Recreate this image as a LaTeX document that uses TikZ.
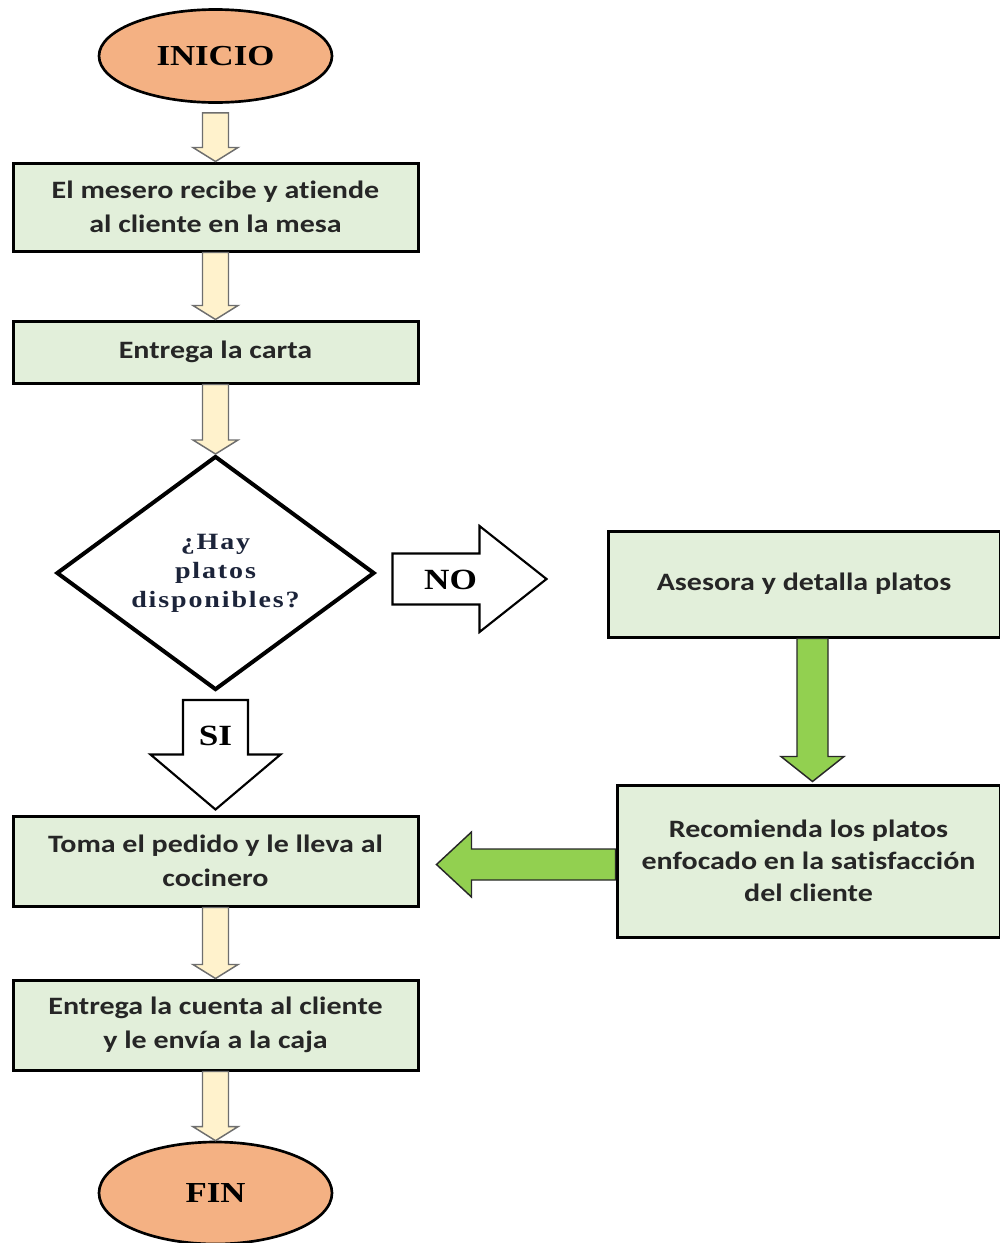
\documentclass[tikz,border=0pt]{standalone}
\usepackage{fontspec}
\usetikzlibrary{shapes.geometric,calc}
\newfontfamily\cajafont[FakeStretch=1.2,Ligatures=NoCommon]{Carlito}
\newfontfamily\titfont[FakeStretch=1.2]{Liberation Serif}
\newfontfamily\decfont[FakeStretch=1.2,LetterSpace=8]{Liberation Serif}
\definecolor{naranja}{RGB}{244,177,131}
\definecolor{verdeclaro}{RGB}{226,239,218}
\definecolor{crema}{RGB}{255,242,204}
\definecolor{verde}{RGB}{146,208,80}
\definecolor{grisborde}{RGB}{110,110,110}
\definecolor{grisoscuro}{RGB}{40,40,40}
\definecolor{textogris}{RGB}{38,38,38}
\definecolor{azulnoche}{RGB}{28,36,58}

\tikzset{every picture/.style={line width=0.75pt},
  caja/.style={draw, line width=2.25pt, fill=verdeclaro, minimum width=303.75pt, inner sep=0pt, align=center, text=textogris, font=\cajafont\bfseries\fontsize{18.75}{25.5}\selectfont},
  terminal/.style={ellipse, draw, line width=2pt, fill=naranja, minimum width=174.75pt, inner sep=0pt, font=\titfont\bfseries\fontsize{21.75}{26}\selectfont},
  decision/.style={diamond, draw, line width=3pt, fill=white, minimum width=238.5pt, minimum height=175.5pt, inner sep=0pt, aspect=1.36, align=center, text=azulnoche, font=\decfont\bfseries\fontsize{17.5}{21.75}\selectfont},
  etiqueta/.style={inner sep=0pt, font=\titfont\bfseries\fontsize{22}{26}\selectfont},
  flechacrema/.style={draw=grisborde, fill=crema, line width=1.1pt},
  flechaverde/.style={draw=grisoscuro, fill=verde, line width=1.1pt},
  flechablanca/.style={draw=black, fill=white, line width=1.6pt}}

% block arrow going down: style, from, tip, half shaft, half head, head offset
\newcommand{\bajada}[6]{\draw[#1] ($(#2)+(-#4,0)$) -- ($(#2)+(#4,0)$) -- ($(#3)+(#4,#6)$) -- ($(#3)+(#5,#6)$) -- (#3) -- ($(#3)+(-#5,#6)$) -- ($(#3)+(-#4,#6)$) -- cycle;}
% block arrow going sideways
\newcommand{\lateral}[6]{\draw[#1] ($(#2)+(0,-#4)$) -- ($(#3)+(#6,-#4)$) -- ($(#3)+(#6,-#5)$) -- (#3) -- ($(#3)+(#6,#5)$) -- ($(#3)+(#6,#4)$) -- ($(#2)+(0,#4)$) -- cycle;}

\begin{document}
\begin{tikzpicture}[x=0.75pt,y=0.75pt,yscale=-1,xscale=1]
\useasboundingbox (0,0) rectangle (1000,1243);

%Shape: Ellipse [inicio]
\node [terminal, minimum height=69.75pt] (ini) at (215.5,56) {INICIO};
%Shape: Rectangle [mesero]
\node [caja, minimum height=66pt] (mesero) at (215.5,207) {El mesero recibe y atiende\\al cliente en la mesa};
%Shape: Rectangle [carta]
\node [caja, minimum height=46.5pt] (carta) at (215.5,352) {Entrega la carta};
%Shape: Diamond [platos]
\node [decision] (platos) at (215.5,573) {¿Hay\\platos\\disponibles?};
%Shape: Rectangle [asesora]
\node [caja, minimum width=294pt, minimum height=79.5pt] (asesora) at (804,584) {Asesora y detalla platos};
%Shape: Rectangle [recomienda]
\node [caja, minimum width=287.25pt, minimum height=114pt, font=\cajafont\bfseries\fontsize{18.75}{24}\selectfont] (recomienda) at (808.5,861) {Recomienda los platos\\enfocado en la satisfacción\\del cliente};
%Shape: Rectangle [pedido]
\node [caja, minimum height=67.5pt] (pedido) at (215.5,861) {Toma el pedido y le lleva al\\cocinero};
%Shape: Rectangle [cuenta]
\node [caja, minimum height=67.5pt] (cuenta) at (215.5,1025) {Entrega la cuenta al cliente\\y le envía a la caja};
%Shape: Ellipse [fin]
\node [terminal, minimum height=76.5pt] (fin) at (215.5,1193) {FIN};

% free ends of the arrows
\coordinate (s1) at ($(ini.south)+(0,9)$);
\coordinate (no1) at ($(platos.east)+(16,6)$);
\coordinate (no2) at ($(asesora.west)+(-60,-5)$);
\coordinate (si1) at ($(platos.south)+(0,8)$);
\coordinate (si2) at ($(pedido.north)+(0,-5)$);
\coordinate (v1) at ($(asesora.south)+(8.5,0)$);
\coordinate (v2) at ($(recomienda.north)+(4,-2)$);
\coordinate (h1) at ($(recomienda.west)+(0,3.5)$);
\coordinate (h2) at ($(pedido.east)+(17,3.5)$);

%Block Arrows
\bajada{flechacrema}{s1}{mesero.north}{13}{22.5}{-14}
\bajada{flechacrema}{mesero.south}{carta.north}{13}{22.5}{-14}
\bajada{flechacrema}{carta.south}{platos.north}{13}{22.5}{-14}
\bajada{flechacrema}{pedido.south}{cuenta.north}{13}{22.5}{-14}
\bajada{flechacrema}{cuenta.south}{fin.north}{13}{22.5}{-14}
\lateral{flechablanca}{no1}{no2}{25.5}{53}{-67}
\bajada{flechablanca}{si1}{si2}{32.5}{65}{-55}
\bajada{flechaverde}{v1}{v2}{15.5}{31.5}{-25}
\lateral{flechaverde}{h1}{h2}{15.5}{32.5}{35}

% Text Node
\node [etiqueta] (no) at ($(no1)+(58,1)$) {NO};
% Text Node
\node [etiqueta] (si) at ($(si1)+(0,36)$) {SI};

\end{tikzpicture}
\end{document}
